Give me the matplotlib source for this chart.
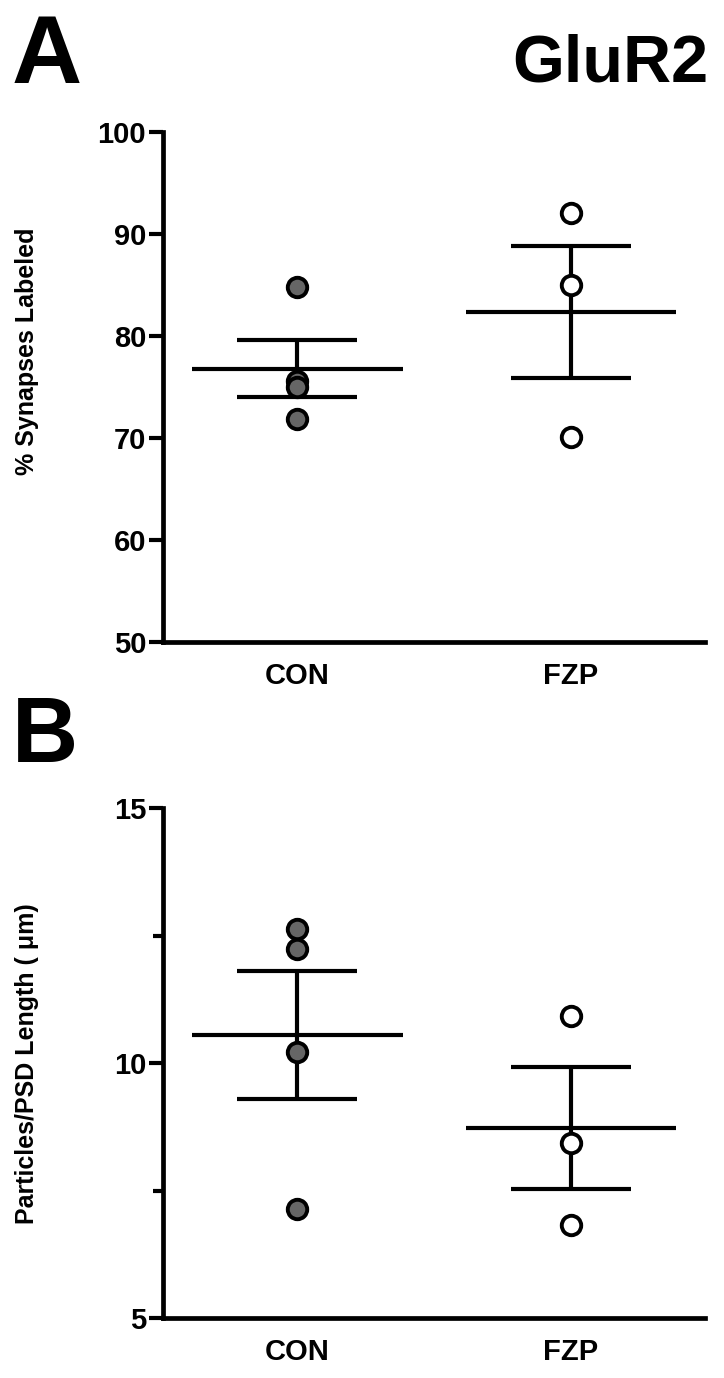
import numpy as np
import matplotlib.pyplot as plt

# values
groups = ['CON', 'FZP']
syn_con = [84.8, 75.6, 75.0, 71.9]
syn_fzp = [92.1, 85.0, 70.1]
psd_con = [12.63, 12.24, 10.22, 7.14]
psd_fzp = [10.93, 8.43, 6.82]

plt.rcParams['font.family'] = ['Liberation Sans', 'DejaVu Sans']
plt.rcParams['font.weight'] = 'bold'

fig = plt.figure(figsize=(7.24, 13.78), dpi=100)
ax1 = fig.add_axes([0.225, 0.534, 0.749, 0.370])
ax2 = fig.add_axes([0.225, 0.0435, 0.749, 0.370])

pos = [1, 2]
fills = ['#666666', 'white']


def panel(ax, data, ylim, yticks, ylabel, label_y):
    for x, vals, fc in zip(pos, data, fills):
        vals = np.array(vals)
        m = vals.mean()
        sem = vals.std(ddof=1) / np.sqrt(len(vals))
        ax.hlines(m, x - 0.385, x + 0.385, color='black', lw=3, zorder=2)
        ax.vlines(x, m - sem, m + sem, color='black', lw=3, zorder=2)
        ax.hlines([m - sem, m + sem], x - 0.22, x + 0.22, color='black', lw=3, zorder=2)
        ax.plot([x] * len(vals), vals, 'o', ms=14, mfc=fc, mec='black', mew=2.8,
                zorder=3, clip_on=False)
    ax.set_xlim(0.51, 2.49)
    ax.set_ylim(*ylim)
    ax.set_yticks(yticks)
    ax.set_yticklabels([str(t) for t in yticks], fontsize=21, fontweight='bold')
    ax.set_xticks(pos)
    ax.set_xticklabels(groups, fontsize=21, fontweight='bold')
    ax.tick_params(axis='x', length=0, pad=14)
    ax.tick_params(axis='y', which='major', length=10, width=3, pad=2)
    ax.tick_params(axis='y', which='minor', length=7, width=3)
    for s in ['top', 'right']:
        ax.spines[s].set_visible(False)
    for s in ['left', 'bottom']:
        ax.spines[s].set_linewidth(3.4)
    ax.set_ylabel(ylabel, fontsize=18, fontweight='bold')
    ax.yaxis.set_label_coords(-0.228, label_y)


panel(ax1, [syn_con, syn_fzp], (50, 100), [50, 60, 70, 80, 90, 100],
      '% Synapses Labeled', 0.57)
panel(ax2, [psd_con, psd_fzp], (5, 15), [5, 10, 15],
      'Particles/PSD Length ( \u03bcm)', 0.5)
ax2.set_yticks([7.5, 12.5], minor=True)

fig.text(12 / 724, 1 - 83 / 1378, 'A', fontsize=70, fontweight='bold', va='baseline')
fig.text(12 / 724, 1 - 762 / 1378, 'B', fontsize=66, fontweight='bold', va='baseline')
fig.text(708 / 724, 1 - 82 / 1378, 'GluR2', fontsize=48, fontweight='bold',
         va='baseline', ha='right')

fig.savefig('out.png', dpi=100)
